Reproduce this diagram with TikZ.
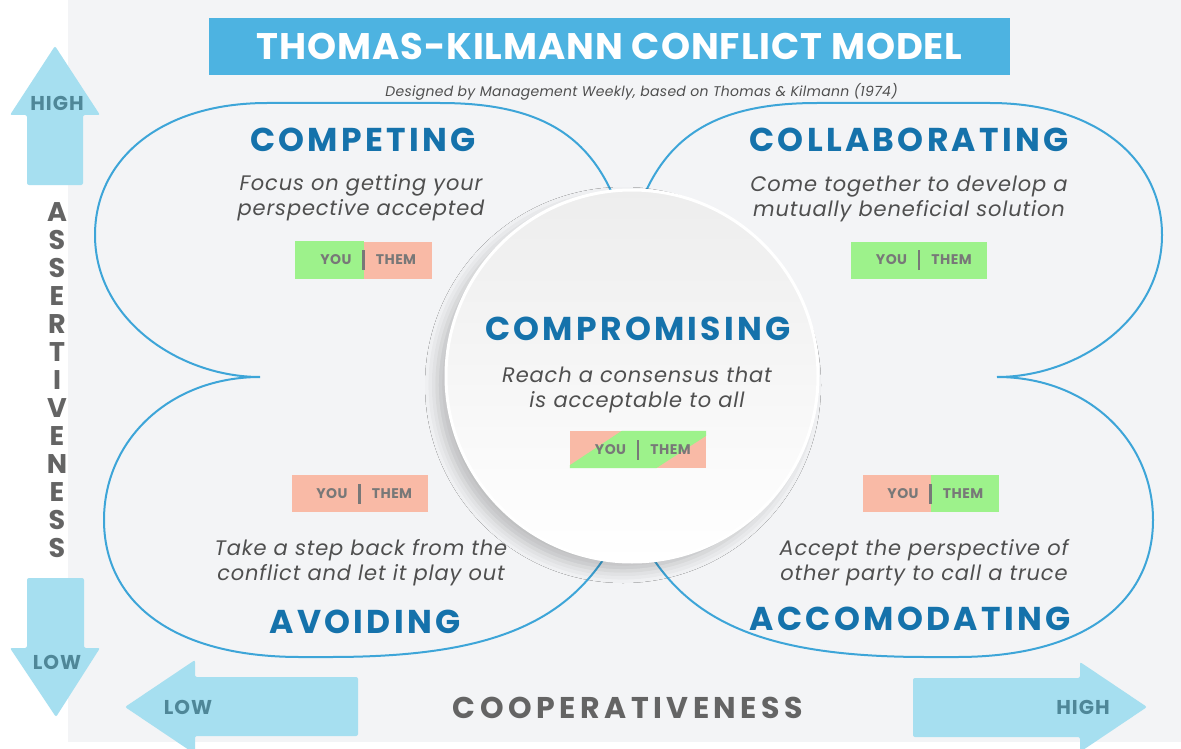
\documentclass[tikz,border=0pt]{standalone}
\usepackage{fontspec}
\setmainfont{Poppins}
\usetikzlibrary{positioning,shadows.blur}

\definecolor{titleblue}{HTML}{4DB3E1}
\definecolor{headblue}{HTML}{1572AB}
\definecolor{lineblue}{HTML}{3DA5D8}
\definecolor{arrowblue}{HTML}{A6DFF0}
\definecolor{arrowtext}{HTML}{4F8798}
\definecolor{txtgray}{HTML}{4F4F4F}
\definecolor{axisgray}{HTML}{646464}
\definecolor{ytgray}{HTML}{787878}
\definecolor{ygreen}{HTML}{9DF28B}
\definecolor{ysalmon}{HTML}{F9BAA6}
\definecolor{bggray}{HTML}{F3F4F6}

\begin{document}
\begin{tikzpicture}[x=1pt, y=-1pt,
    ttlbox/.style={fill=titleblue, text=white,
                font=\fontsize{37}{40}\selectfont\bfseries\addfontfeature{LetterSpace=2.5},
                minimum width=801pt, minimum height=57pt, inner sep=0pt},
    subttl/.style={font=\fontsize{14}{15}\selectfont\itshape\addfontfeature{LetterSpace=2}, text=txtgray, inner sep=0pt},
    heading/.style={font=\fontsize{33}{36}\selectfont\bfseries\addfontfeature{LetterSpace=10},
                text=headblue, inner sep=0pt, anchor=base},
    desc/.style={font=\fontsize{21}{25}\selectfont\itshape\addfontfeature{LetterSpace=4},
                text=txtgray, align=center, inner sep=0pt},
    ytbox/.style={minimum width=136pt, minimum height=37pt, inner sep=0pt},
    yt/.style={font=\fontsize{14}{14}\selectfont\bfseries\addfontfeature{LetterSpace=3}, text=ytgray, inner sep=0pt},
    ytbar/.style={ytgray, line width=2.5pt},
    outline/.style={lineblue, line width=2pt},
    bigarrow/.style={fill=arrowblue, rounded corners=2pt},
    arrowlbl/.style={font=\fontsize{20}{20}\selectfont\bfseries\addfontfeature{LetterSpace=5},
                text=arrowtext, inner sep=0pt},
    axislbl/.style={font=\fontsize{27}{28}\selectfont\bfseries, text=axisgray, inner sep=0pt},
    dish/.style={circle, minimum size=372pt, inner sep=0pt, top color=black!7, bottom color=white,
                draw=white, line width=3pt,
                blur shadow={shadow xshift=-9pt, shadow yshift=-9pt, shadow blur radius=12pt, shadow opacity=22}}
  ]
    \useasboundingbox (0,0) rectangle (1181,749);
    \fill[white] (0,0) rectangle (1181,749);
    \fill[bggray] (68,0) rectangle (1181,742);

    % outline of the four lobes (left half, then mirrored)
    \foreach \sx in {1,-1}
      \draw[outline, shift={({628.5*(1-\sx)},0)}, xscale=\sx]
        (628,240) .. controls (605,150) and (560,103) .. (440,103) -- (267,103)
        .. controls (160,103) and (95,160) .. (95,235)
        .. controls (95,320) and (180,377) .. (260,377)
        .. controls (170,377) and (104,440) .. (104,520)
        .. controls (104,600) and (170,657) .. (300,657) -- (330,657)
        .. controls (500,657) and (585,620) .. (628,512);

    \node[dish] (cmC) at (632,376) {};

    % title
    \node[ttlbox] (ttl) at (609.5,46.5) {THOMAS-KILMANN CONFLICT MODEL};
    \node[subttl, below=8pt of ttl, xshift=32pt] (sub) {Designed by Management Weekly, based on Thomas \& Kilmann (1974)};

    % competing
    \node[heading] (cpH) at (363,152) {COMPETING};
    \node[desc] (cpD) at (361,198) {Focus on getting your\\perspective accepted};
    \node[ytbox, fill=ysalmon] (cpB) at (363.5,260) {};
    \fill[ygreen] (cpB.south west) rectangle (cpB.north);
    \node[yt] (cpY) at ([xshift=-27.5pt]cpB.center) {YOU};
    \node[yt] (cpT) at ([xshift=32.5pt]cpB.center) {THEM};
    \draw[ytbar] ([yshift=-10pt]cpB.center) -- ([yshift=10pt]cpB.center);

    % collaborating
    \node[heading] (clH) at (909,152) {COLLABORATING};
    \node[desc] (clD) at (909,199) {Come together to develop a\\mutually beneficial solution};
    \node[ytbox, fill=ygreen] (clB) at (919,260) {};
    \node[yt] (clY) at ([xshift=-27.5pt]clB.center) {YOU};
    \node[yt] (clT) at ([xshift=32.5pt]clB.center) {THEM};
    \draw[ytbar] ([yshift=-10pt]clB.center) -- ([yshift=10pt]clB.center);

    % compromising
    \node[heading] (cmH) at (638,340) {COMPROMISING};
    \node[desc] (cmD) at (637,390) {Reach a consensus that\\is acceptable to all};
    \node[ytbox, fill=ysalmon] (cmB) at (638,449.5) {};
    \fill[ygreen] (cmB.south west) -- ([yshift=3pt]cmB.south west) -- ([xshift=52pt]cmB.north west)
      -- (cmB.north east) -- ([yshift=-5pt]cmB.north east) -- ([xshift=-50pt]cmB.south east) -- cycle;
    \node[yt] (cmY) at ([xshift=-27.5pt]cmB.center) {YOU};
    \node[yt] (cmT) at ([xshift=32.5pt]cmB.center) {THEM};
    \draw[ytbar] ([yshift=-10pt]cmB.center) -- ([yshift=10pt]cmB.center);

    % avoiding
    \node[ytbox, fill=ysalmon] (avB) at (359.5,493.5) {};
    \node[yt] (avY) at ([xshift=-27.5pt]avB.center) {YOU};
    \node[yt] (avT) at ([xshift=32.5pt]avB.center) {THEM};
    \draw[ytbar] ([yshift=-10pt]avB.center) -- ([yshift=10pt]avB.center);
    \node[desc] (avD) at (361,563) {Take a step back from the\\conflict and let it play out};
    \node[heading] (avH) at (365,633) {AVOIDING};

    % accomodating
    \node[ytbox, fill=ysalmon] (acB) at (930.5,493.5) {};
    \fill[ygreen] (acB.south) rectangle (acB.north east);
    \node[yt] (acY) at ([xshift=-27.5pt]acB.center) {YOU};
    \node[yt] (acT) at ([xshift=32.5pt]acB.center) {THEM};
    \draw[ytbar] ([yshift=-10pt]acB.center) -- ([yshift=10pt]acB.center);
    \node[desc] (acD) at (924,563) {Accept the perspective of\\other party to call a truce};
    \node[heading] (acH) at (910,630) {ACCOMODATING};

    % assertiveness axis
    \fill[bigarrow] (27,185) -- (27,115) -- (10,115) -- (55,46) -- (100,115) -- (83,115) -- (83,185) -- cycle;
    \fill[bigarrow] (27,578) -- (27,648) -- (10,648) -- (56,717) -- (100,648) -- (84,648) -- (84,578) -- cycle;
    \node[arrowlbl] (asHi) at (57,103) {HIGH};
    \node[arrowlbl] (asLo) at (57,662) {LOW};
    \node[axislbl, align=center] (asr) at (57,380) {A\\S\\S\\E\\R\\T\\I\\V\\E\\N\\E\\S\\S};

    % cooperativeness axis
    \fill[bigarrow] (358,677) -- (195,677) -- (195,660) -- (125,707) -- (195,754) -- (195,736) -- (358,736) -- cycle;
    \fill[bigarrow] (913,678) -- (1080,678) -- (1080,662) -- (1147,707) -- (1080,752) -- (1080,737) -- (913,737) -- cycle;
    \node[arrowlbl] (coLo) at (188,707) {LOW};
    \node[arrowlbl] (coHi) at (1083,707) {HIGH};
    \node[axislbl, font=\fontsize{30}{30}\selectfont\bfseries\addfontfeature{LetterSpace=15}] (coop) at (628,708) {COOPERATIVENESS};
\end{tikzpicture}
\end{document}
